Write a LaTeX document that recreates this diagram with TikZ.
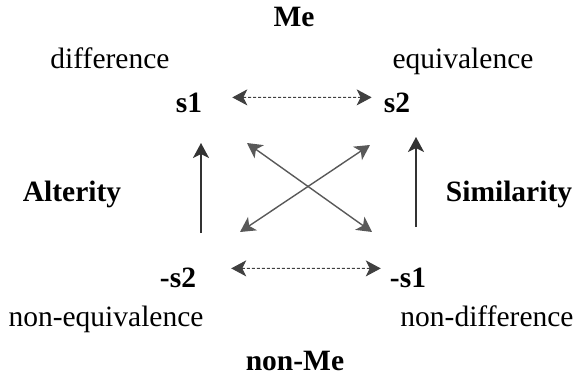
\documentclass[tikz,border=0pt]{standalone}
\usepackage{fontspec}
\setmainfont{Liberation Serif}
\usetikzlibrary{arrows.meta, positioning, calc}

\begin{document}
\begin{tikzpicture}[
  x=1pt, y=-1pt,
  lbl/.style  ={inner sep=0pt, anchor=base, font=\fontsize{29.5}{34}\selectfont},
  blbl/.style ={lbl, font=\fontsize{29.5}{34}\selectfont\bfseries},
  arr/.style  ={-{Stealth[length=15pt, width=16pt, inset=4pt]}, line width=2pt, black!80},
  xarr/.style ={{Stealth[length=15pt, width=16pt, inset=4pt]}-{Stealth[length=15pt, width=16pt, inset=4pt]},
                line width=1.4pt, black!65},
  darr/.style ={{Stealth[length=15pt, width=16pt, inset=4pt]}-{Stealth[length=15pt, width=16pt, inset=4pt]},
                line width=1pt, black!75, dash pattern=on 3pt off 2pt},
]
\useasboundingbox (0,0) rectangle (581,377);

%% ---- Poles ----
\node[blbl] (me)   at (294,27)  {Me};
\node[blbl] (nme)  at (295,370) {non-Me};

%% ---- Corner terms ----
\node[blbl] (s1)   at (189,113) {s1};
\node[blbl] (s2)   at (397,113) {s2};
\node[blbl] (ms2)  at (178,287) {-s2};
\node[blbl] (ms1)  at (408,287) {-s1};

%% ---- Corner descriptions ----
\node[lbl] (diff)   at (110,69)  {difference};
\node[lbl] (equiv)  at (463,69)  {equivalence};
\node[lbl] (nequiv) at (106,326) {non-equivalence};
\node[lbl] (ndiff)  at (487,326) {non-difference};

%% ---- Sides ----
\node[blbl] (alt) at (72,201)  {Alterity};
\node[blbl] (sim) at (509,201) {Similarity};

%% ---- Arrow ends ----
\coordinate (lb) at (201,233);
\coordinate (lt) at (201,143);
\coordinate (rb) at (416,227);
\coordinate (rt) at (416,137);
\coordinate (xtl) at (247,143);
\coordinate (xtr) at (370,145);
\coordinate (xbl) at (240,232);
\coordinate (xbr) at (372,232);

%% ---- Arrows ----
\draw[darr] ($(s1.east)+(30,-6)$) -- ($(s2.west)+(-12,-6)$);
\draw[darr] ($(ms2.east)+(35,-9)$) -- ($(ms1.west)+(-9,-9)$);
\draw[arr] (lb) -- (lt);
\draw[arr] (rb) -- (rt);
\draw[xarr] (xtl) -- (xbr);
\draw[xarr] (xtr) -- (xbl);

\end{tikzpicture}
\end{document}
